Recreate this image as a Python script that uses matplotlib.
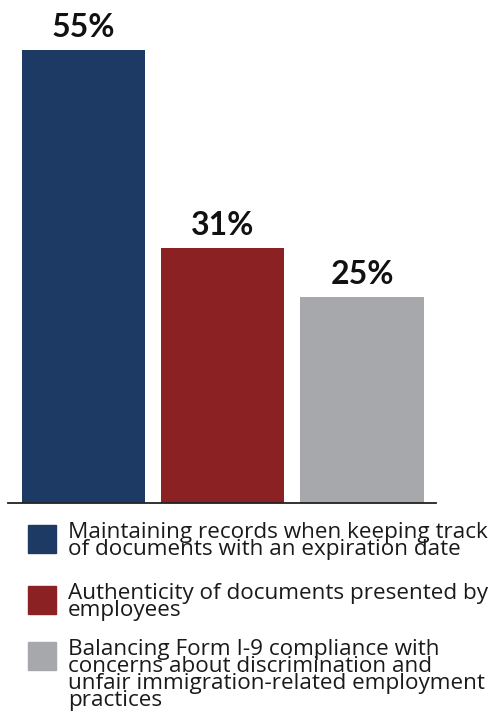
import matplotlib.pyplot as plt
from matplotlib.patches import Rectangle

# survey shares per challenge
categories = [
    'Maintaining records when keeping track\nof documents with an expiration date',
    'Authenticity of documents presented by\nemployees',
    'Balancing Form I-9 compliance with\nconcerns about discrimination and\nunfair immigration-related employment\npractices',
]
values = [55, 31, 25]
colors = ['#1c3a64', '#8b2123', '#a7a8ac']

plt.rcParams['font.family'] = ['Lato', 'DejaVu Sans']

fig = plt.figure(figsize=(4.93, 7.17), dpi=100)
W, H = 493, 717

# axes: left line edge 8px, right 436px, baseline 503px, 8.24 px per %
x0, x1, base = 8, 436, 503
ymax = 60
top = base - ymax * 8.24
ax = fig.add_axes([x0 / W, 1 - base / H, (x1 - x0) / W, (base - top) / H])

xs = range(len(values))
ax.bar(xs, values, width=0.885, color=colors)
ax.set_xlim(-0.54, 2.53)
ax.set_ylim(0, ymax)

for x, v in zip(xs, values):
    ax.annotate(f'{v}%', (x, v), xytext=(0, 5.5), textcoords='offset points',
                ha='center', va='bottom', fontsize=23, fontweight='bold',
                color='#111111')

for s in ['top', 'right', 'left']:
    ax.spines[s].set_visible(False)
ax.spines['bottom'].set_color('#222222')
ax.spines['bottom'].set_linewidth(1.3)
ax.set_xticks([])
ax.set_yticks([])

# legend drawn by hand to mimic the stacked layout
box_tops = [525, 586, 642]
for label, c, bt in zip(categories, colors, box_tops):
    fig.patches.append(Rectangle((28 / W, 1 - (bt + 28) / H), 28 / W, 28 / H,
                                 transform=fig.transFigure, color=c))
    fig.text(68 / W, 1 - (bt - 3) / H, label, ha='left', va='top',
             fontsize=16.2, family=['Open Sans', 'DejaVu Sans'],
             color='#1a1a1a', linespacing=0.76)

fig.savefig('out.png', dpi=100)
